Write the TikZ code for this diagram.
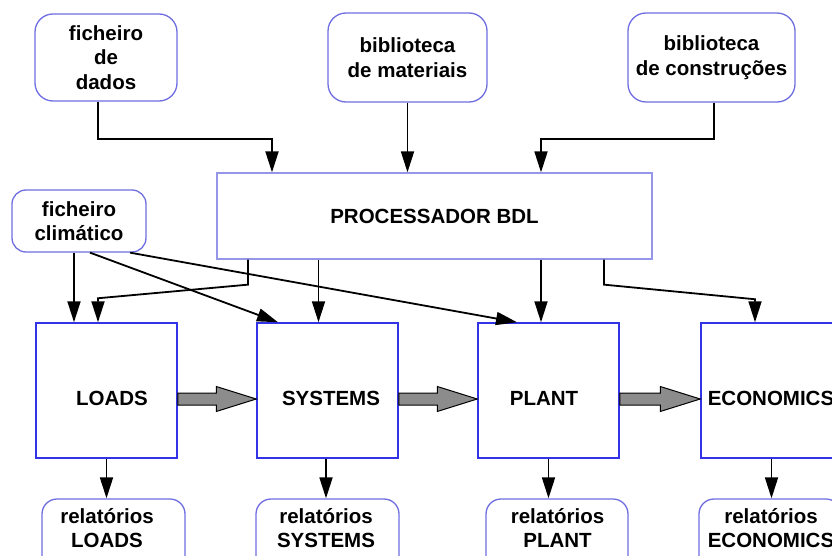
\documentclass[tikz,border=0pt]{standalone}
\usepackage{fontspec}
\setmainfont{Liberation Sans}
\usetikzlibrary{arrows.meta,calc}
\definecolor{rboxc}{RGB}{110,110,225}
\definecolor{sboxc}{RGB}{50,50,230}
\definecolor{pboxc}{RGB}{150,150,232}
\definecolor{fatgray}{RGB}{140,140,140}
\newcommand\dlabelfont{\fontsize{20.5}{24.5}\selectfont\bfseries}
\newcommand\fatarrow[2]{\draw[fat] ($(#1.east)+(0,-2.5)$) -- ($(#2.west)+(-40,-2.5)$) -- ($(#2.west)+(-40,4)$) -- ($(#2.west)+(0,-8.5)$) -- ($(#2.west)+(-40,-21)$) -- ($(#2.west)+(-40,-14.5)$) -- ($(#1.east)+(0,-14.5)$) -- cycle;}
\begin{document}
\begin{tikzpicture}[x=1pt,y=1pt,
  rbox/.style={draw=rboxc, line width=1.3pt, rounded corners=18pt, inner sep=0pt, align=center, font=\dlabelfont},
  pbox/.style={draw=pboxc, line width=1.3pt, inner sep=0pt, align=center, font=\dlabelfont},
  sbox/.style={draw=sboxc, line width=1.5pt, inner sep=0pt, minimum width=141, minimum height=135},
  txt/.style={inner sep=0pt, align=center, font=\dlabelfont},
  arr/.style={draw=black, line width=1.8pt, -{Triangle[length=21pt,width=13pt]}},
  fat/.style={draw=black, fill=fatgray, line width=1pt, line join=miter}
]
\useasboundingbox (0,0) rectangle (832,-556);
\clip (0,0) rectangle (832,-556);

% top sources
\node[rbox, minimum width=142, minimum height=87] (dados) at (106,-57.5) {ficheiro\\de\\dados};
\node[rbox, minimum width=159, minimum height=89] (mat) at (407.5,-57.5) {biblioteca\\de materiais};
\node[rbox, minimum width=167, minimum height=89] (cons) at (711.5,-57.5) {biblioteca\\de construções};
\node[rbox, rounded corners=14pt, minimum width=134, minimum height=62] (clim) at (79,-221) {ficheiro\\climático};

% processor
\node[pbox, minimum width=435, minimum height=86] (proc) at (434.5,-216) {PROCESSADOR BDL};

% modules
\node[sbox] (loads) at (106.5,-390.5) {};
\node[sbox] (systems) at (327.5,-390.5) {};
\node[sbox] (plant) at (548.5,-390.5) {};
\node[sbox] (econ) at (771.5,-390.5) {};
\node[txt] (loadsT) at (112,-398) {LOADS};
\node[txt] (systemsT) at (331,-398) {SYSTEMS};
\node[txt] (plantT) at (544,-398) {PLANT};
\node[txt] (econT) at (771,-398) {ECONOMICS};

% reports
\node[rbox, rounded corners=15pt, minimum width=143, minimum height=80] (rloads) at (113.5,-539) {};
\node[rbox, rounded corners=15pt, minimum width=143, minimum height=80] (rsystems) at (327.5,-539) {};
\node[rbox, rounded corners=15pt, minimum width=142, minimum height=80] (rplant) at (557,-539) {};
\node[rbox, rounded corners=15pt, minimum width=142, minimum height=80] (recon) at (770,-539) {};
\node[txt] (rloadsT) at (107,-528) {relatórios\\LOADS};
\node[txt] (rsystemsT) at (326,-528) {relatórios\\SYSTEMS};
\node[txt] (rplantT) at (557.5,-528) {relatórios\\PLANT};
\node[txt] (reconT) at (771,-528) {relatórios\\ECONOMICS};

% inputs to processor
\draw[arr] ([xshift=-8pt]dados.south) |- ([xshift=-162.5pt,yshift=33pt]proc.north) -- ([xshift=-162.5pt]proc.north);
\draw[arr] (mat.south) -- (mat.south |- proc.north);
\draw[arr] ([xshift=2.5pt]cons.south) |- ([xshift=106.5pt,yshift=33pt]proc.north) -- ([xshift=106.5pt]proc.north);

% processor to modules
\draw[arr] ([xshift=-186.5pt]proc.south) -- ++(0,-25) -- ([xshift=-8.5pt,yshift=24pt]loads.north) -- ([xshift=-8.5pt]loads.north);
\draw[arr] ([xshift=-9pt]systems.north |- proc.south) -- ([xshift=-9pt]systems.north);
\draw[arr] ([xshift=-7.5pt]plant.north |- proc.south) -- ([xshift=-7.5pt]plant.north);
\draw[arr] ([xshift=169.5pt]proc.south) -- ++(0,-25) -- ([xshift=-16.5pt,yshift=23pt]econ.north) -- ([xshift=-16.5pt]econ.north);

% climate file
\draw[arr] ([xshift=-5pt]clim.south) -- ([xshift=-32.5pt]loads.north);
\draw[arr] ([xshift=11pt]clim.south) -- ([xshift=-49.5pt]systems.north);
\draw[arr] ([xshift=51pt]clim.south) -- ([xshift=-31.5pt]plant.north);

% modules to reports
\draw[arr] (loads.south) -- (loads.south |- rloads.north);
\draw[arr] ([xshift=-1.5pt]systems.south) -- ([xshift=-1.5pt]systems.south |- rsystems.north);
\draw[arr] (plant.south) -- (plant.south |- rplant.north);
\draw[arr] (econ.south) -- (econ.south |- recon.north);

% fat arrows
\fatarrow{loads}{systems}
\fatarrow{systems}{plant}
\fatarrow{plant}{econ}
\end{tikzpicture}
\end{document}
